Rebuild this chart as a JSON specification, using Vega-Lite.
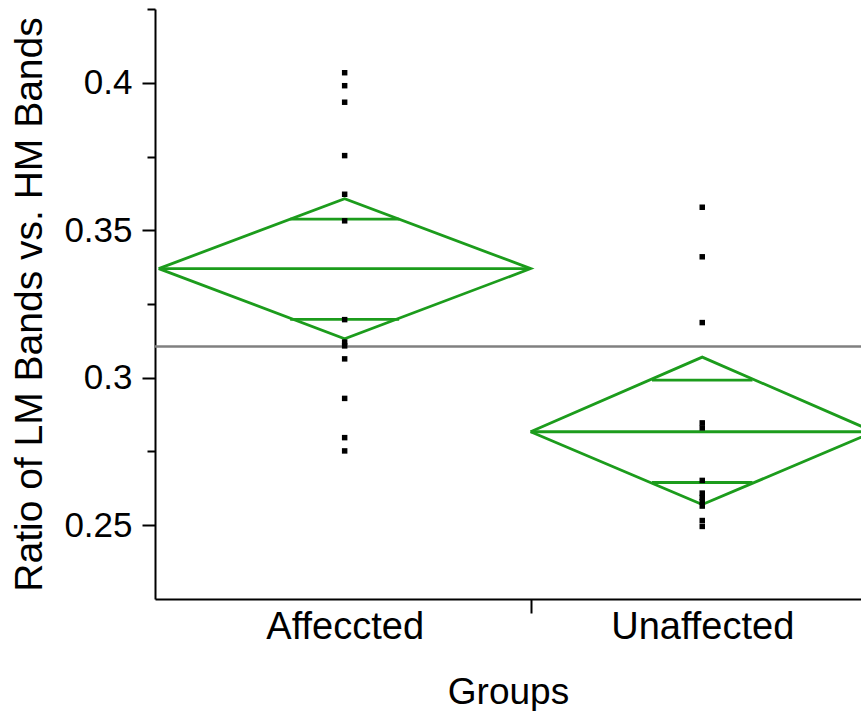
{
  "$schema": "https://vega.github.io/schema/vega-lite/v6.json",
  "width": 706,
  "height": 590,
  "autosize": {"type": "none"},
  "padding": {"left": 155, "top": 9, "right": 0, "bottom": 112},
  "background": "white",
  "config": {
    "view": {"stroke": null},
    "axis": {"grid": false, "domainColor": "black", "tickColor": "black", "labelColor": "black", "titleColor": "black", "domainWidth": 2, "tickWidth": 2}
  },
  "datasets": {
    "points": [
      {"group": "Affeccted", "pos": 6.5, "ratio": 0.4034},
      {"group": "Affeccted", "pos": 6.5, "ratio": 0.3990},
      {"group": "Affeccted", "pos": 6.5, "ratio": 0.3934},
      {"group": "Affeccted", "pos": 6.5, "ratio": 0.3753},
      {"group": "Affeccted", "pos": 6.5, "ratio": 0.3622},
      {"group": "Affeccted", "pos": 6.5, "ratio": 0.3532},
      {"group": "Affeccted", "pos": 6.5, "ratio": 0.3197},
      {"group": "Affeccted", "pos": 6.5, "ratio": 0.3121},
      {"group": "Affeccted", "pos": 6.5, "ratio": 0.3108},
      {"group": "Affeccted", "pos": 6.5, "ratio": 0.3064},
      {"group": "Affeccted", "pos": 6.5, "ratio": 0.2930},
      {"group": "Affeccted", "pos": 6.5, "ratio": 0.2797},
      {"group": "Affeccted", "pos": 6.5, "ratio": 0.2752},
      {"group": "Unaffected", "pos": 19, "ratio": 0.3578},
      {"group": "Unaffected", "pos": 19, "ratio": 0.3410},
      {"group": "Unaffected", "pos": 19, "ratio": 0.3187},
      {"group": "Unaffected", "pos": 19, "ratio": 0.2847},
      {"group": "Unaffected", "pos": 19, "ratio": 0.2830},
      {"group": "Unaffected", "pos": 19, "ratio": 0.2652},
      {"group": "Unaffected", "pos": 19, "ratio": 0.2609},
      {"group": "Unaffected", "pos": 19, "ratio": 0.2594},
      {"group": "Unaffected", "pos": 19, "ratio": 0.2580},
      {"group": "Unaffected", "pos": 19, "ratio": 0.2565},
      {"group": "Unaffected", "pos": 19, "ratio": 0.2516},
      {"group": "Unaffected", "pos": 19, "ratio": 0.2496}
    ],
    "diamonds": [
      {"group": "Affeccted", "order": 1, "pos": 0, "ratio": 0.3370},
      {"group": "Affeccted", "order": 2, "pos": 6.5, "ratio": 0.3607},
      {"group": "Affeccted", "order": 3, "pos": 13, "ratio": 0.3370},
      {"group": "Affeccted", "order": 4, "pos": 6.5, "ratio": 0.3132},
      {"group": "Affeccted", "order": 5, "pos": 0, "ratio": 0.3370},
      {"group": "Unaffected", "order": 1, "pos": 13, "ratio": 0.2817},
      {"group": "Unaffected", "order": 2, "pos": 19, "ratio": 0.3070},
      {"group": "Unaffected", "order": 3, "pos": 25, "ratio": 0.2817},
      {"group": "Unaffected", "order": 4, "pos": 19, "ratio": 0.2570},
      {"group": "Unaffected", "order": 5, "pos": 13, "ratio": 0.2817}
    ],
    "segments": [
      {"group": "Affeccted", "kind": "mean", "pos": 0, "pos2": 13, "ratio": 0.3370},
      {"group": "Affeccted", "kind": "overlap upper", "pos": 4.596, "pos2": 8.404, "ratio": 0.3538},
      {"group": "Affeccted", "kind": "overlap lower", "pos": 4.596, "pos2": 8.404, "ratio": 0.3198},
      {"group": "Unaffected", "kind": "mean", "pos": 13, "pos2": 25, "ratio": 0.2817},
      {"group": "Unaffected", "kind": "overlap upper", "pos": 17.243, "pos2": 20.757, "ratio": 0.2992},
      {"group": "Unaffected", "kind": "overlap lower", "pos": 17.243, "pos2": 20.757, "ratio": 0.2645}
    ],
    "grand": [
      {"kind": "grand mean", "ratio": 0.3106}
    ]
  },
  "layer": [
    {
      "data": {"name": "points"},
      "mark": {"type": "square", "color": "black", "filled": true, "opacity": 0, "size": 30},
      "encoding": {
        "x": {
          "field": "pos", "type": "quantitative",
          "scale": {"domain": [-0.13, 24.55], "nice": false, "zero": false},
          "axis": {
            "values": [6.5, 13, 19],
            "labelExpr": "datum.value == 6.5 ? 'Affeccted' : (datum.value == 19 ? 'Unaffected' : '')",
            "tickOpacity": {"condition": {"test": "datum.value == 13", "value": 1}, "value": 0},
            "tickSize": 14,
            "labelPadding": -5,
            "labelFlush": false,
            "labelOverlap": false,
            "labelLimit": 0,
            "labelFont": "Liberation Sans, Arial, sans-serif",
            "labelFontSize": 38,
            "title": "Groups",
            "titleFont": "Liberation Sans, Arial, sans-serif",
            "titleFontSize": 37,
            "titleFontWeight": "normal",
            "titlePadding": 28
          }
        },
        "y": {
          "field": "ratio", "type": "quantitative",
          "scale": {"domain": [0.225, 0.425], "nice": false, "zero": false},
          "axis": {
            "values": [0.25, 0.275, 0.3, 0.325, 0.35, 0.375, 0.4, 0.425],
            "labelExpr": "round(datum.value * 1000) % 50 == 0 ? format(datum.value, '.2~f') : ''",
            "tickSize": {"condition": {"test": "round(datum.value * 1000) % 50 == 0", "value": 13}, "value": 8},
            "labelPadding": 10,
            "labelOverlap": false,
            "labelFlush": false,
            "labelFont": "Liberation Sans, Arial, sans-serif",
            "labelFontSize": 35,
            "title": "Ratio of LM Bands vs. HM Bands",
            "titleFont": "Liberation Sans, Arial, sans-serif",
            "titleFontSize": 39,
            "titleFontWeight": "normal",
            "titlePadding": 14
          }
        }
      }
    },
    {
      "data": {"name": "grand"},
      "mark": {"type": "rule", "color": "#808080", "strokeWidth": 2.5},
      "encoding": {
        "y": {"field": "ratio", "type": "quantitative"}
      }
    },
    {
      "data": {"name": "diamonds"},
      "mark": {"type": "line", "color": "#1c9c1c", "strokeWidth": 2.8, "clip": true},
      "encoding": {
        "x": {"field": "pos", "type": "quantitative"},
        "y": {"field": "ratio", "type": "quantitative"},
        "detail": {"field": "group"},
        "order": {"field": "order", "type": "quantitative"}
      }
    },
    {
      "data": {"name": "segments"},
      "mark": {"type": "rule", "color": "#1c9c1c", "strokeWidth": 2.8, "clip": true},
      "encoding": {
        "x": {"field": "pos", "type": "quantitative"},
        "x2": {"field": "pos2"},
        "y": {"field": "ratio", "type": "quantitative"}
      }
    },
    {
      "data": {"name": "points"},
      "mark": {"type": "square", "color": "black", "filled": true, "opacity": 1, "size": 30},
      "encoding": {
        "x": {"field": "pos", "type": "quantitative"},
        "y": {"field": "ratio", "type": "quantitative"}
      }
    }
  ]
}
